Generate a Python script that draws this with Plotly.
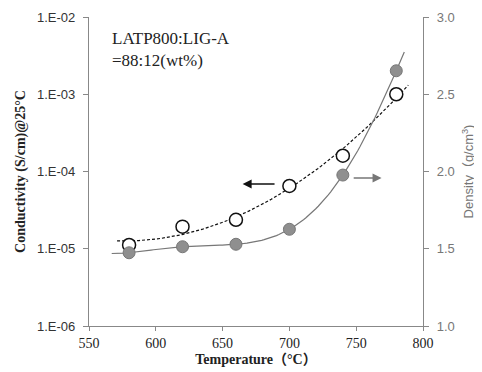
import numpy as np
import plotly.graph_objects as go

temps = [580, 620, 660, 700, 740, 780]
conductivity = [1.12e-5, 1.93e-5, 2.37e-5, 6.5e-5, 1.6e-4, 1.0e-3]
density = [1.474, 1.513, 1.529, 1.626, 1.977, 2.652]

x_ticks = [550, 600, 650, 700, 750, 800]
y_ticks = [1e-6, 1e-5, 1e-4, 1e-3, 1e-2]
y_tick_labels = ["1.E-06", "1.E-05", "1.E-04", "1.E-03", "1.E-02"]
y2_ticks = [1.0, 1.5, 2.0, 2.5, 3.0]

# trendlines fitted from the data
tx = np.linspace(571, 789, 120)
cfit = np.polyfit(temps, np.log10(conductivity), 2)
c_trend = 10 ** np.polyval(cfit, tx)
tx2 = np.linspace(567, 786, 120)
dfit = np.polyfit(temps, density, 5)
d_trend = np.polyval(dfit, tx2)

fig = go.Figure()
fig.add_trace(go.Scatter(x=tx, y=c_trend, mode="lines",
                         line=dict(color="#111", width=1.2, dash="3px,2px"),
                         hoverinfo="skip", showlegend=False))
fig.add_trace(go.Scatter(x=tx2, y=d_trend, mode="lines", yaxis="y2",
                         line=dict(color="#777", width=1.2),
                         hoverinfo="skip", showlegend=False))
fig.add_trace(go.Scatter(x=temps, y=conductivity, mode="markers",
                         marker=dict(size=13, color="white", line=dict(color="#111", width=1.5)),
                         showlegend=False))
fig.add_trace(go.Scatter(x=temps, y=density, mode="markers", yaxis="y2",
                         marker=dict(size=12, color="#8f8f8f", line=dict(color="#777", width=1)),
                         showlegend=False))

fig.add_annotation(x=665, y=np.log10(6.9e-5), ax=690, ay=np.log10(6.9e-5),
                   xref="x", yref="y", axref="x", ayref="y", text="",
                   showarrow=True, arrowhead=2, arrowsize=1.2, arrowwidth=1.5, arrowcolor="#111")
fig.add_annotation(x=769, y=1.958, ax=747, ay=1.958,
                   xref="x", yref="y2", axref="x", ayref="y2", text="",
                   showarrow=True, arrowhead=2, arrowsize=1.2, arrowwidth=1.5, arrowcolor="#777")

fig.add_annotation(x=566, y=np.log10(7.5e-3), xref="x", yref="y", xanchor="left", yanchor="top",
                   text="LATP800:LIG-A<br>=88:12(wt%)", showarrow=False, align="left",
                   font=dict(family="Liberation Serif", size=17, color="#222"))

fig.update_layout(
    width=474, height=364,
    margin=dict(l=81, r=59, t=9, b=46),
    paper_bgcolor="white", plot_bgcolor="white",
    xaxis=dict(range=[550, 800], tickvals=x_ticks, showgrid=False, zeroline=False,
               showline=True, linecolor="#888", linewidth=1.2, ticks="outside", ticklen=4,
               tickcolor="#888", automargin=False,
               tickfont=dict(family="Liberation Serif", size=14, color="#222"),
               title=dict(text="<b>Temperature（°C）</b>", standoff=4,
                          font=dict(family="Liberation Serif, Noto Sans CJK SC", size=14, color="#222"))),
    yaxis=dict(type="log", range=[-6, -2], tickvals=y_ticks, ticktext=y_tick_labels,
               showgrid=False, zeroline=False, showline=True, linecolor="#888", linewidth=1.2,
               ticks="outside", ticklen=5, tickcolor="#888", automargin=False,
               ticklabelstandoff=5,
               tickfont=dict(family="Liberation Sans", size=13, color="#333"),
               title=dict(text="<b>Conductivity (S/cm)@25°C</b>", standoff=8,
                          font=dict(family="Liberation Serif", size=14, color="#222"))),
    yaxis2=dict(overlaying="y", side="right", range=[1, 3], tickvals=y2_ticks,
                tickformat=".1f", showgrid=False, zeroline=False, showline=True,
                linecolor="#888", linewidth=1.2, ticks="outside", ticklen=5, tickcolor="#888",
                automargin=False, ticklabelstandoff=5,
                tickfont=dict(family="Liberation Sans", size=13, color="#777"),
                title=dict(text="Density（g/cm<sup>3</sup>)", standoff=10,
                           font=dict(family="Liberation Sans, Noto Sans CJK SC", size=13, color="#777"))),
)

fig.write_html("out.html")
